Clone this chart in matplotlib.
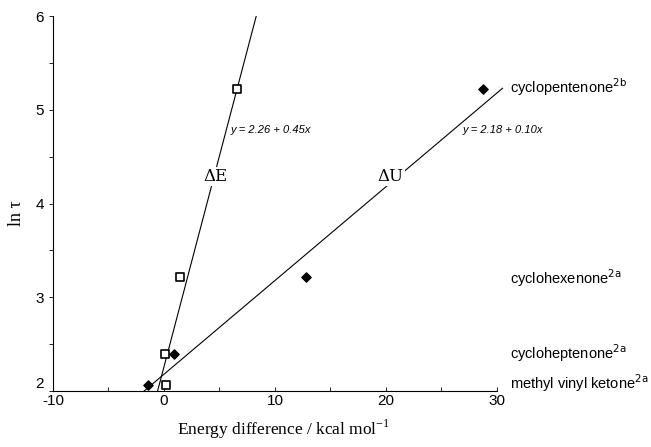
import numpy as np
import matplotlib.pyplot as plt
from matplotlib.ticker import MultipleLocator

plt.rcParams['axes.unicode_minus'] = False

# data
lnt = [5.22, 3.22, 2.40, 2.07]
dE = [6.6, 1.4, 0.1, 0.2]
dU = [28.7, 12.8, 0.9, -1.4]
compounds = ["cyclopentenone$^{\\mathrm{2b}}$", "cyclohexenone$^{\\mathrm{2a}}$",
             "cycloheptenone$^{\\mathrm{2a}}$", "methyl vinyl ketone$^{\\mathrm{2a}}$"]
fitE = (2.26, 0.45)
fitU = (2.18, 0.10)

fig = plt.figure(figsize=(6.51, 4.47), dpi=100)
ax = fig.add_axes([0.0814, 0.125, 0.682, 0.839])

# fit lines
xe = np.array([(2 - fitE[0]) / fitE[1], (6 - fitE[0]) / fitE[1]])
ax.plot(xe, fitE[0] + fitE[1] * xe, color='black', lw=0.8, zorder=1)
xu = np.array([(2 - fitU[0]) / fitU[1], 30.5])
ax.plot(xu, fitU[0] + fitU[1] * xu, color='black', lw=0.8, zorder=1, clip_on=False)

ax.scatter(dE, lnt, marker='s', s=26, facecolors='white', edgecolors='black',
           linewidths=1.2, zorder=3, clip_on=False)
ax.scatter(dU, lnt, marker='D', s=22, color='black', zorder=3, clip_on=False)

bb = dict(facecolor='white', edgecolor='none', pad=1)
ax.text(4.6, 4.29, "ΔE", family='DejaVu Serif', fontsize=12, ha='center', va='center', bbox=bb, zorder=2)
ax.text(20.4, 4.29, "ΔU", family='DejaVu Serif', fontsize=12, ha='center', va='center', bbox=bb, zorder=2)
ax.text(6.0, 4.78, "y = 2.26 + 0.45x", style='italic', family='Liberation Sans', fontsize=8,
        ha='left', va='center', bbox=dict(facecolor='white', edgecolor='none', pad=0.5), zorder=2)
ax.text(26.9, 4.78, "y = 2.18 + 0.10x", style='italic', family='Liberation Sans', fontsize=8,
        ha='left', va='center', bbox=dict(facecolor='white', edgecolor='none', pad=0.5), zorder=2)

for name, y in zip(compounds, [5.24, 3.2, 2.4, 2.09]):
    ax.text(31.2, y, name, family='Liberation Sans', fontsize=10.5, ha='left', va='center')

ax.set_xlim(-10, 30)
ax.set_ylim(2, 6)
ax.set_xticks([-10, 0, 10, 20, 30])
ax.set_yticks([2, 3, 4, 5, 6])
ax.xaxis.set_minor_locator(MultipleLocator(5))
ax.yaxis.set_minor_locator(MultipleLocator(0.5))
ax.spines['top'].set_visible(False)
ax.spines['right'].set_visible(False)
ax.spines['left'].set_linewidth(0.8)
ax.spines['bottom'].set_linewidth(0.8)
ax.tick_params(axis='y', which='both', direction='out', length=3, width=0.6, labelsize=11)
ax.tick_params(axis='x', which='both', direction='in', length=3, width=0.6, labelsize=11, pad=2)
for lab in ax.get_xticklabels() + ax.get_yticklabels():
    lab.set_family('Liberation Sans')
ax.get_yticklabels()[0].set_va('bottom')

ax.set_xlabel("Energy difference / kcal mol$^{\\mathregular{-1}}$", family='Liberation Serif',
              fontsize=12.5)
ax.xaxis.set_label_coords(0.52, -0.072)
ax.set_ylabel("ln τ", family='Liberation Serif', fontsize=13)
ax.yaxis.set_label_coords(-0.063, 0.475)

fig.savefig("out.png", dpi=100)
